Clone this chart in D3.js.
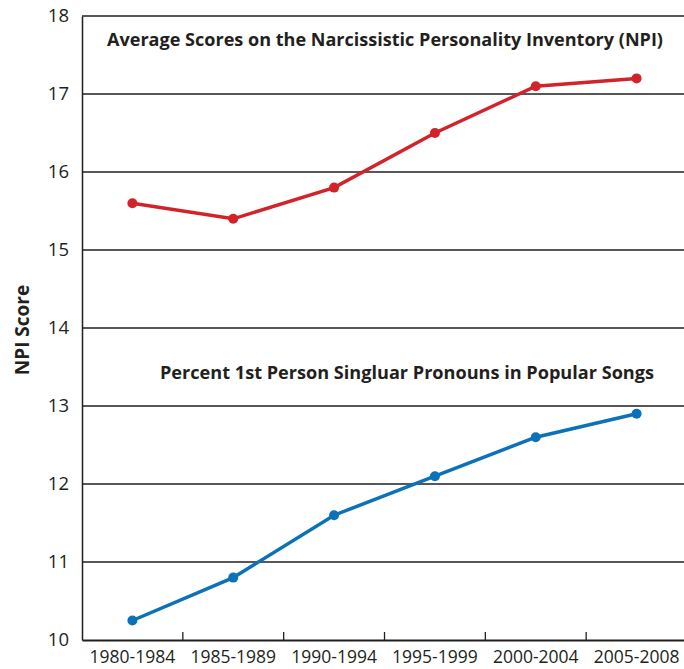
<!DOCTYPE html>
<html><head><meta charset="utf-8">
<script src="https://cdn.jsdelivr.net/npm/d3@7"></script>
<style>body{margin:0;background:#fff}</style>
</head><body>
<svg id="c" width="684" height="669"></svg>
<script>
const categories = ["1980-1984","1985-1989","1990-1994","1995-1999","2000-2004","2005-2008"];
const npiScores = [15.6, 15.4, 15.8, 16.5, 17.1, 17.2];
const pronounScores = [10.25, 10.8, 11.6, 12.1, 12.6, 12.9];
const yTicks = [10,11,12,13,14,15,16,17,18];
const npiTitle = "Average Scores on the Narcissistic Personality Inventory (NPI)";
const pronounTitle = "Percent 1st Person Singluar Pronouns in Popular Songs";
const yLabel = "NPI Score";

const svg = d3.select("#c");
const font = "'Open Sans', sans-serif";
const mLeft = 82, mRight = 687, mTop = 16, mBottom = 640;
const x = d3.scaleBand().domain(categories).range([mLeft, mRight]);
const y = d3.scaleLinear().domain([10, 18]).range([mBottom, mTop]);

// gridlines
svg.append("g").selectAll("line").data(yTicks.filter(d => d > 10)).join("line")
  .attr("x1", mLeft).attr("x2", 684).attr("y1", d => y(d)).attr("y2", d => y(d))
  .attr("stroke", "#231f20").attr("stroke-width", 1.3);

// left axis
const ya = svg.append("g").attr("transform", `translate(${mLeft},0)`)
  .call(d3.axisLeft(y).tickValues(yTicks).tickSize(0).tickPadding(13).tickFormat(d3.format("d")));
ya.select(".domain").attr("stroke", "#231f20").attr("stroke-width", 1.5);
ya.selectAll("text").attr("font-family", font).attr("font-size", 18.5).attr("fill", "#231f20");

// bottom axis
const xa = svg.append("g").attr("transform", `translate(0,${mBottom})`)
  .call(d3.axisBottom(x).tickSize(0).tickPadding(11));
xa.select(".domain").attr("stroke", "#231f20").attr("stroke-width", 2.2);
xa.selectAll("text").attr("font-family", font).attr("font-size", 17.5).attr("fill", "#231f20");
// boundary tick marks (pointing up)
svg.append("g").selectAll("line").data(categories.slice(1)).join("line")
  .attr("x1", d => x(d)).attr("x2", d => x(d)).attr("y1", mBottom).attr("y2", mBottom - 8)
  .attr("stroke", "#231f20").attr("stroke-width", 1.3);

function series(vals, color) {
  const line = d3.line().x((d, i) => x(categories[i]) + x.bandwidth() / 2).y(d => y(d));
  svg.append("path").datum(vals).attr("d", line).attr("fill", "none")
    .attr("stroke", color).attr("stroke-width", 3.5);
  svg.append("g").selectAll("circle").data(vals).join("circle")
    .attr("cx", (d, i) => x(categories[i]) + x.bandwidth() / 2).attr("cy", d => y(d))
    .attr("r", 5).attr("fill", color);
}
series(npiScores, "#d2232a");
series(pronounScores, "#0b72b9");

svg.append("text").attr("x", 385).attr("y", 46).attr("text-anchor", "middle")
  .attr("font-family", font).attr("font-weight", "bold").attr("font-size", 17.5)
  .attr("textLength", 556).attr("lengthAdjust", "spacingAndGlyphs")
  .attr("fill", "#231f20").text(npiTitle);
svg.append("text").attr("x", 407).attr("y", 379).attr("text-anchor", "middle")
  .attr("font-family", font).attr("font-weight", "bold").attr("font-size", 17.5)
  .attr("textLength", 494).attr("lengthAdjust", "spacingAndGlyphs")
  .attr("fill", "#231f20").text(pronounTitle);
svg.append("text").attr("transform", "translate(29,330) rotate(-90)").attr("text-anchor", "middle")
  .attr("font-family", font).attr("font-weight", "bold").attr("font-size", 19)
  .attr("fill", "#231f20").text(yLabel);
</script>
</body></html>
